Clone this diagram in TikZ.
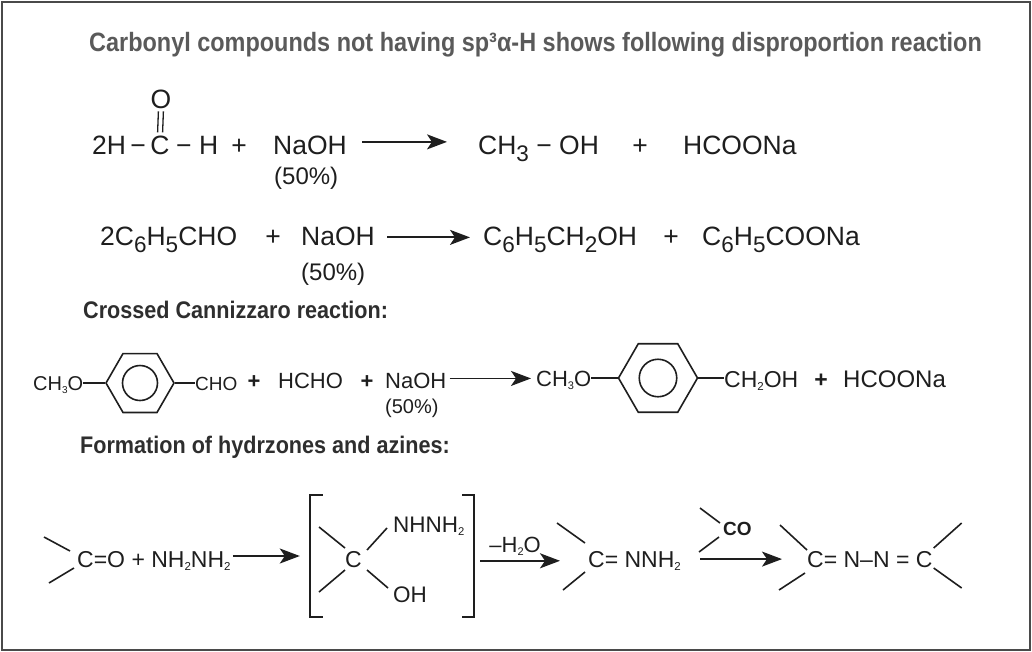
\documentclass[tikz,border=0pt]{standalone}
\usepackage{fontspec}
\usepackage{graphicx}
\setmainfont{Liberation Sans}
\newfontfamily\headfont[FakeStretch=0.9]{Liberation Sans}
\newfontfamily\titlefont[FakeStretch=0.885]{Liberation Sans}
\usetikzlibrary{arrows.meta,positioning,shapes.geometric}
\definecolor{czink}{HTML}{1E1E1E}
\definecolor{cztitle}{HTML}{5A5A5A}
\definecolor{czhead}{HTML}{2E2E2E}
\definecolor{czframe}{HTML}{4A4A4A}
\newcommand\bsub[1]{\raisebox{-0.5ex}{\scalebox{0.85}{#1}}}
\newcommand\ssub[1]{\raisebox{-0.3ex}{\scalebox{0.5}{#1}}}
\newcommand\fsz[1]{\fontsize{#1}{#1}\selectfont}
\tikzset{
  cz text/.style={anchor=base west, inner sep=0pt, text=czink},
  cz big/.style={cz text, font=\fsz{26.5}},
  cz mid/.style={cz text, font=\fsz{23}},
  cz head/.style={cz text, font=\headfont\bfseries\fsz{24}, text=czhead},
  cz arrow/.style={-{Stealth[length=20pt,width=15pt,inset=5pt]}, line width=1.8pt, draw=czink},
  cz bond/.style={line width=1.6pt, draw=czink},
  cz ring/.style={regular polygon, regular polygon sides=6, draw=czink, line width=1.6pt, inner sep=0pt},
  cz inner/.style={circle, draw=czink, line width=1.6pt, inner sep=0pt}
}

\begin{document}
\begin{tikzpicture}[x=1pt, y=-1pt]
    \useasboundingbox (0,0) rectangle (1032,651);
    \draw[czframe, line width=2pt] (1.5,1.5) rectangle (1030,649.5);
    \node[cz text, font=\titlefont\bfseries\fsz{26.5}, text=cztitle] (title) at (89,51) {Carbonyl compounds not having sp³α-H shows following disproportion reaction};

    % HCHO + NaOH
    \node[cz big, anchor=base] (c1) at (160,154) {C};
    \node[cz big, anchor=base east] (h1l) at (146,154) {2H\,−};
    \node[cz big] (h1r) at (176,154) {− H};
    \node[cz big, anchor=base] (o1) at (161,108) {O};
    \draw[cz bond, line width=1.3pt, shorten <=3pt, shorten >=3pt] ([xshift=-2.5pt]o1.south) -- ([xshift=-2.5pt]c1.north);
    \draw[cz bond, line width=1.3pt, shorten <=3pt, shorten >=3pt] ([xshift=2.5pt]o1.south) -- ([xshift=2.5pt]c1.north);
    \node[cz big, anchor=base] (plus1) at (239,154) {+};
    \node[cz big] (naoh1) at (273,154) {NaOH};
    \node[cz text, font=\fsz{24}] (pct1) at (274,184) {(50\%)};
    \node[cz big] (ch3oh) at (478,154) {CH\bsub{3} − OH};
    \node[cz big, anchor=base] (plus2) at (640,154) {+};
    \node[cz big] (hcoona1) at (683,154) {HCOONa};
    \draw[cz arrow, shorten <=15pt, shorten >=31pt] ([yshift=3pt]naoh1.east) -- ([yshift=3pt]naoh1.east -| ch3oh.west);

    % C6H5CHO + NaOH
    \node[cz big] (bzh) at (100,245) {2C\bsub{6}H\bsub{5}CHO};
    \node[cz big, anchor=base] (plus3) at (273,245) {+};
    \node[cz big] (naoh2) at (301,245) {NaOH};
    \node[cz text, font=\fsz{24}] (pct2) at (301,280) {(50\%)};
    \node[cz big] (bzoh) at (483,245) {C\bsub{6}H\bsub{5}CH\bsub{2}OH};
    \node[cz big, anchor=base] (plus4) at (671,245) {+};
    \node[cz big] (bzona) at (702,245) {C\bsub{6}H\bsub{5}COONa};
    \draw[cz arrow, shorten <=12pt, shorten >=13pt] ([yshift=-1.5pt]naoh2.east) -- ([yshift=-1.5pt]naoh2.east -| bzoh.west);

    \node[cz head] (crossed) at (83,318) {Crossed Cannizzaro reaction:};

    % crossed Cannizzaro
    \node[cz text, font=\fsz{20}] (mo1) at (33,390) {CH\ssub{3}O};
    \node[cz ring, minimum size=68pt] (ring1) at (140,383) {};
    \node[cz inner, minimum size=35pt] (in1) at (ring1.center) {};
    \node[cz text, font=\fsz{19}] (cho) at (195,390) {CHO};
    \draw[cz bond] (mo1.east |- ring1.west) -- (ring1.west);
    \draw[cz bond] (ring1.east) -- (ring1.east -| cho.west);
    \node[cz text, font=\bfseries\fsz{22}, anchor=base] (plus5) at (254,388) {+};
    \node[cz text, font=\fsz{22}] (hcho) at (278,388) {HCHO};
    \node[cz text, font=\bfseries\fsz{22}, anchor=base] (plus6) at (367,388) {+};
    \node[cz text, font=\fsz{22}] (naoh3) at (385,388) {NaOH};
    \node[cz text, font=\fsz{20}] (pct3) at (385,413) {(50\%)};
    \node[cz text, font=\fsz{22}] (mo2) at (536,386) {CH\ssub{3}O};
    \node[cz ring, minimum size=79pt] (ring2) at (658,378) {};
    \node[cz inner, minimum size=37.5pt] (in2) at (ring2.center) {};
    \node[cz text, font=\fsz{23}] (ch2oh) at (724,387) {CH\ssub{2}OH};
    \draw[cz bond] (mo2.east |- ring2.west) -- (ring2.west);
    \draw[cz bond] (ring2.east) -- (ring2.east -| ch2oh.west);
    \node[cz text, font=\bfseries\fsz{23}, anchor=base] (plus7) at (821,387) {+};
    \node[cz text, font=\fsz{24}] (hcoona2) at (843,387) {HCOONa};
    \draw[cz arrow, shorten <=3pt, shorten >=5pt] ([yshift=2pt]naoh3.east) -- ([yshift=2pt]naoh3.east -| mo2.west);

    \node[cz head] (hydr) at (80,453) {Formation of hydrzones and azines:};

    % hydrazone and azine
    \node[cz mid] (ca) at (77,567) {C=O + NH\ssub{2}NH\ssub{2}};
    \draw[cz bond] (ca.base west) ++(-7,-16) -- ++(-26,-14);
    \draw[cz bond] (ca.base west) ++(-3,1) -- ++(-25,15);
    \node[minimum width=164pt, minimum height=122pt, inner sep=0pt] (inter) at (392,556) {};
    \draw[cz bond, line width=2.2pt] ([xshift=13pt]inter.north west) -- (inter.north west) -- (inter.south west) -- ([xshift=13pt]inter.south west);
    \draw[cz bond, line width=2.2pt] ([xshift=-12pt]inter.north east) -- (inter.north east) -- (inter.south east) -- ([xshift=-12pt]inter.south east);
    \node[cz mid] (cc) at (345,567) {C};
    \draw[cz bond] (cc.base west) ++(0,-19) -- ++(-26,-21);
    \draw[cz bond] (cc.base west) ++(0,3) -- ++(-26,22);
    \draw[cz bond] (cc.base east) ++(5,-17) -- ++(20,-22);
    \draw[cz bond] (cc.base east) ++(5,3) -- ++(21,18);
    \node[cz text, font=\fsz{22.5}] (nh) at (393,532) {NHNH\ssub{2}};
    \node[cz text, font=\fsz{22.5}] (oh) at (393,602) {OH};
    \draw[cz arrow, shorten >=10pt, shorten <=2pt] (ca.east |- inter.west) -- (inter.west);

    \node[cz mid] (hz) at (588,567) {C= NNH\ssub{2}};
    \draw[cz bond] (hz.base west) ++(-3,-24) -- ++(-28,-20);
    \draw[cz bond] (hz.base west) ++(-3,5) -- ++(-22,18);
    \draw[cz arrow, shorten <=6pt, shorten >=28pt] (inter.east |- hz.west) -- (hz.west)
        node[cz text, font=\fsz{22}, pos=0.36, anchor=south, yshift=4pt] (mh) {–H\ssub{2}O};

    \node[cz mid] (az) at (807,567) {C= N–N = C};
    \draw[cz bond] (az.base west) ++(0,-17) -- ++(-27,-25);
    \draw[cz bond] (az.base west) ++(-2,6) -- ++(-26,17);
    \draw[cz bond] (az.base east) ++(1,-19) -- ++(28,-25);
    \draw[cz bond] (az.base east) ++(1,1) -- ++(28,20);
    \node[cz text, font=\bfseries\fsz{19}] (co) at (723,535) {CO};
    \draw[cz bond] (co.base west) ++(-3,-12) -- ++(-20,-15);
    \draw[cz bond] (co.base west) ++(-4,2) -- ++(-20,15);
    \draw[cz arrow, shorten <=19pt, shorten >=25pt] (hz.east |- az.west) -- (az.west);
\end{tikzpicture}
\end{document}
